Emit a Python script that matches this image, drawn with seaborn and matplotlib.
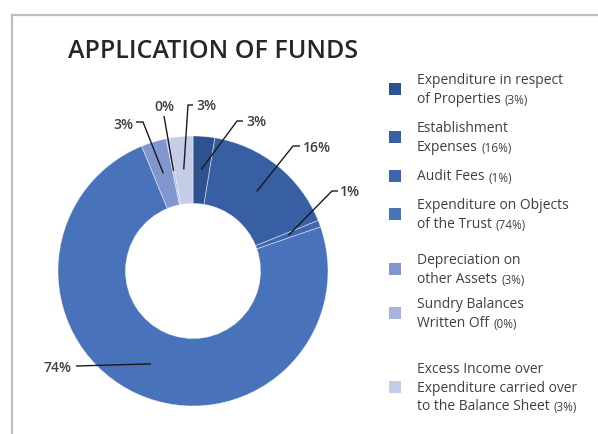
import numpy as np
import matplotlib
matplotlib.use("Agg")
import matplotlib.pyplot as plt
import seaborn as sns
from matplotlib.patches import Rectangle

sns.set_theme(style="white")
plt.rcParams['font.family'] = ['Open Sans', 'DejaVu Sans']

# ---- data ----
categories = [
    "Expenditure in respect\nof Properties",
    "Establishment\nExpenses",
    "Audit Fees",
    "Expenditure on Objects\nof the Trust",
    "Depreciation on\nother Assets",
    "Sundry Balances\nWritten Off",
    "Excess Income over\nExpenditure carried over\nto the Balance Sheet",
]
values = [2.6, 16.3, 0.8, 74.1, 3.0, 0.3, 2.9]
colors = ["#2E528F", "#385FA4", "#3F67AF", "#4872B9", "#7F96CF", "#A7B4DD", "#C4CCE7"]

W, H = 598, 435
fig = plt.figure(figsize=(W / 100, H / 100), dpi=100)

# frame border
fig.patches.append(Rectangle((11.5 / W, -0.1), 1.2, (H - 15.5) / H + 0.1,
                             transform=fig.transFigure, fill=False,
                             edgecolor="#BFBFBF", linewidth=1.6))

cx, cy, R = 193, 272, 135
ax = fig.add_axes([(cx - R) / W, (H - cy - R) / H, 2 * R / W, 2 * R / H])

wedges, _ = ax.pie(values, colors=colors, startangle=90, counterclock=False,
                   radius=1.0, wedgeprops=dict(width=0.5, edgecolor=(1, 1, 1, 0.5), linewidth=0.6))
ax.set_xlim(-1, 1)
ax.set_ylim(-1, 1)
ax.set_aspect("equal")
ax.axis("off")

def px(x, y):
    return ((x - cx) / R, (cy - y) / R)

# label layout: (elbow, end, text pos, ha) in pixels
layout = [
    ((237, 122), (243, 122), (246, 122), "left"),
    ((293, 147), (300, 147), (303, 148), "left"),
    ((332, 192), (338, 192), (340, 192), "left"),
    ((90, 367), (76, 367), (71, 368), "right"),
    ((143, 123), (136, 123), (133, 125), "right"),
    ((164, 117), (164, 117), (164, 107), "center"),
    ((188, 106), (193, 106), (196, 106), "left"),
]
for w, v, (elb, end, tp, ha) in zip(wedges, values, layout):
    ang = np.deg2rad((w.theta1 + w.theta2) / 2)
    r = 0.755
    ax_, ay_ = r * np.cos(ang), r * np.sin(ang)
    e = px(*elb)
    n = px(*end)
    if ha == "right" and elb[1] == end[1] and abs(ay_ - e[1]) < 0.1:
        xs, ys = [ax_, n[0]], [ay_, n[1]]
    else:
        xs, ys = [ax_, e[0], n[0]], [ay_, e[1], n[1]]
    ax.plot(xs, ys, color="#1a1a1a", lw=1.0, solid_capstyle="butt", clip_on=False)
    t = px(*tp)
    ax.text(t[0], t[1], f"{round(v)}%", ha=ha, va="center", fontsize=10,
            fontweight="semibold", color="#404040", clip_on=False)

# title
fig.text(68 / W, 1 - 52 / H, "APPLICATION OF FUNDS", fontsize=18, fontweight="semibold",
         color="#262626", va="center", ha="left")

# legend
leg_y = [90, 138, 177, 215, 270, 314, 388]
renderer = fig.canvas.get_renderer()
for cat, v, c, y in zip(categories, values, colors, leg_y):
    fig.patches.append(Rectangle((389 / W, 1 - (y + 6) / H), 12 / W, 12 / H,
                                 transform=fig.transFigure, facecolor=c, edgecolor="none"))
    nlines = cat.count("\n") + 1
    lines = cat.split("\n")
    lh = 18.5
    top = y - (nlines - 1) * lh / 2
    for i, ln in enumerate(lines):
        ly = top + i * lh
        t = fig.text(417 / W, 1 - ly / H, ln, fontsize=10, color="#404040",
                     va="center", ha="left")
        if i == nlines - 1:
            bb = t.get_window_extent(renderer=renderer)
            fig.text(bb.x1 / W + 4 / W, 1 - (ly + 1) / H, f"({round(v)}%)", fontsize=8.5,
                     color="#404040", va="center", ha="left")

fig.savefig("out.png", dpi=100)
